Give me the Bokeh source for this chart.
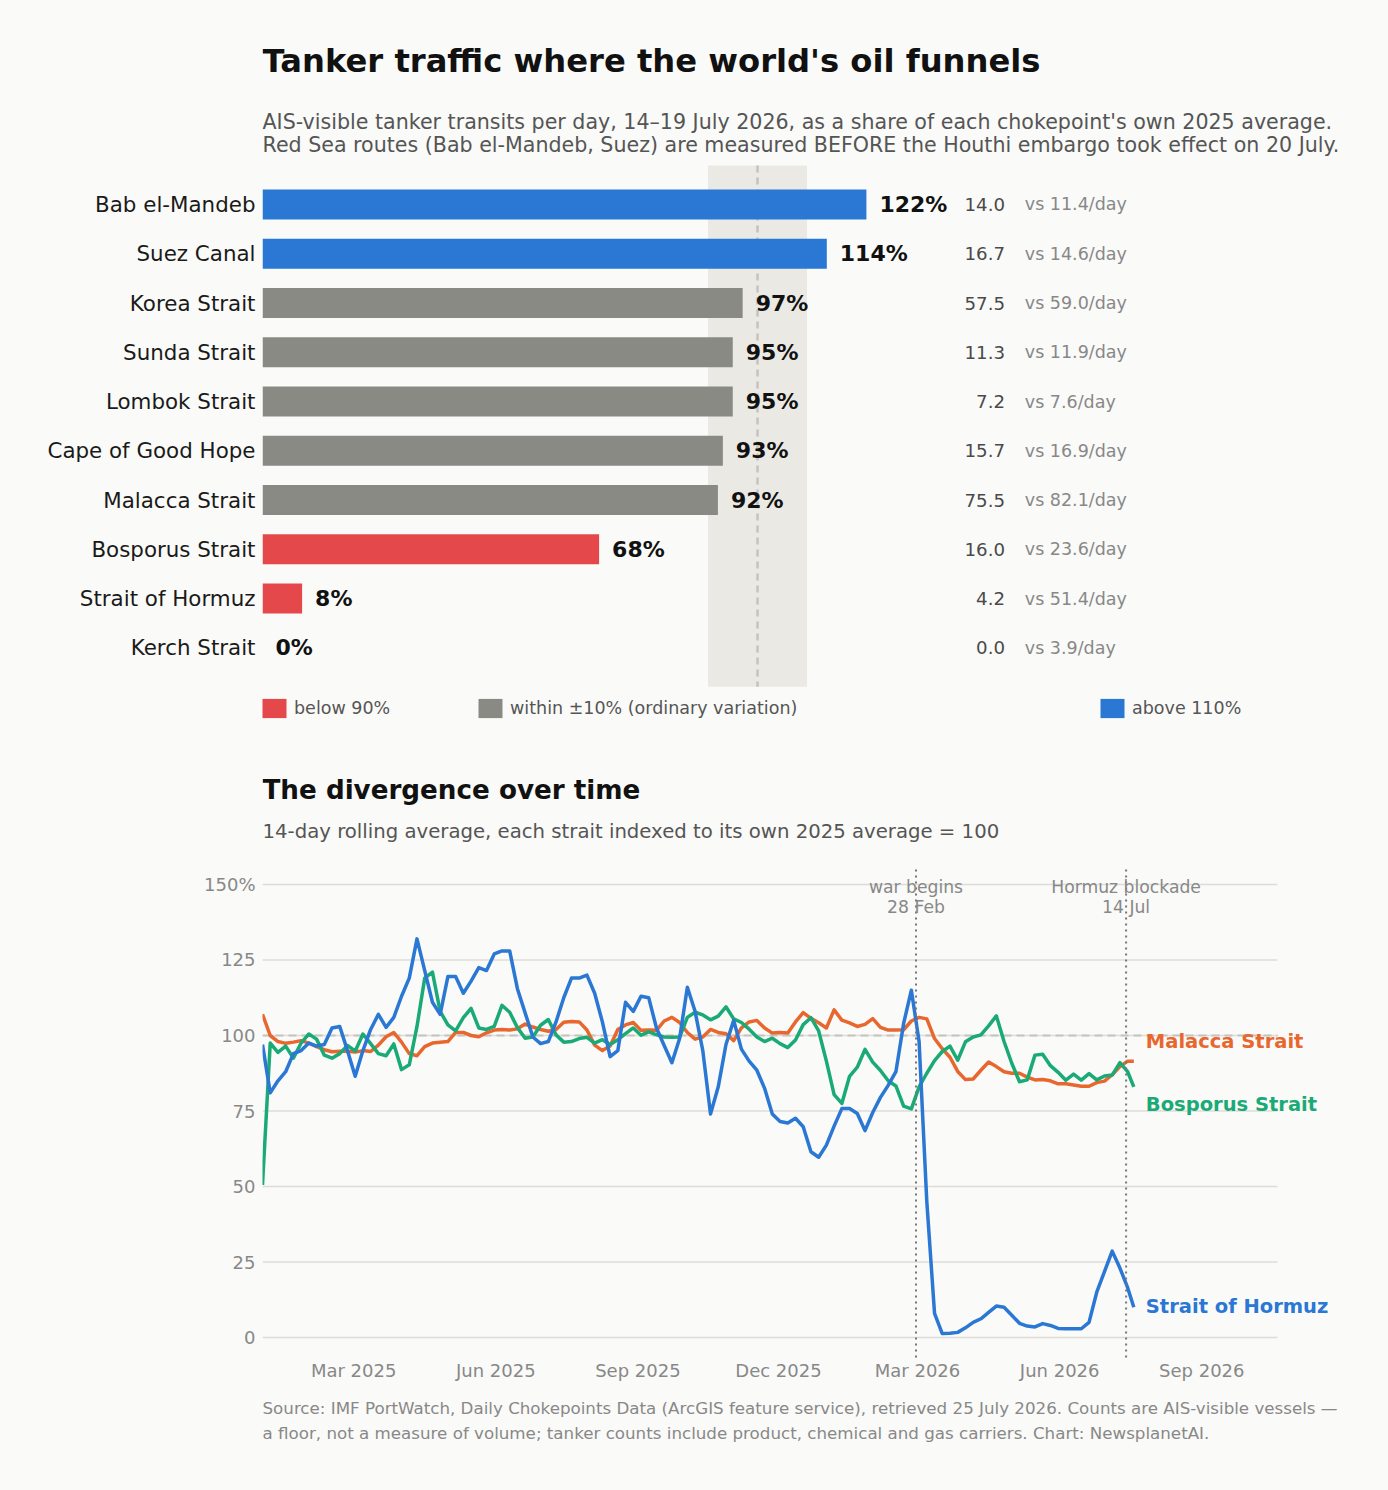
from datetime import timedelta
import pandas as pd
from bokeh.plotting import figure
from bokeh.layouts import column
from bokeh.models import (ColumnDataSource, Range1d, FixedTicker, BoxAnnotation,
                          Label, Legend, LegendItem, DatetimeTickFormatter)
from bokeh.core.properties import value
from bokeh.embed import file_html
from bokeh.resources import INLINE

# ---------------- data: top panel ----------------
chokepoints = ["Bab el-Mandeb", "Suez Canal", "Korea Strait", "Sunda Strait", "Lombok Strait",
               "Cape of Good Hope", "Malacca Strait", "Bosporus Strait", "Strait of Hormuz",
               "Kerch Strait"]
share_pct = [122, 114, 97, 95, 95, 93, 92, 68, 8, 0]
current_per_day = [14.0, 16.7, 57.5, 11.3, 7.2, 15.7, 75.5, 16.0, 4.2, 0.0]
baseline_per_day = [11.4, 14.6, 59.0, 11.9, 7.6, 16.9, 82.1, 23.6, 51.4, 3.9]
legend_labels = ["below 90%", "within \u00b110% (ordinary variation)", "above 110%"]

# ---------------- data: bottom panel (14-day rolling, index 2025 avg = 100) ----------------
series_start = "2025-01-01"
series_step_days = 5
series_end = "2026-07-19"
malacca = [107, 100, 98, 97.4, 97.8, 98.3, 97.5, 96.3, 95.3, 94.6,
           94.8, 94.8, 94.5, 95, 94.7, 96.8, 99.6, 101, 97.8, 94,
           93.3, 96.3, 97.5, 97.8, 98, 101, 101, 100, 99.6, 100.9,
           101.8, 102, 101.8, 102.2, 103.8, 102.8, 102, 101.4, 102, 104.4,
           104.6, 104.5, 101.8, 96.8, 95, 96.5, 102, 103.5, 104.3, 101.7,
           101.8, 101.7, 104.8, 106, 104.3, 101, 98.8, 99.5, 102, 101,
           100.6, 98.3, 102.5, 104.5, 105, 102.5, 100.8, 101, 100.8, 104.5,
           107.6, 105.7, 104.2, 102.5, 108.5, 105.1, 104.2, 103, 103.7, 105.6,
           102.7, 101.8, 101.8, 101.9, 104.8, 106, 105.5, 99, 95.6, 92.8,
           88.1, 85.4, 85.6, 88.5, 91.2, 89.7, 88, 87.5, 87.5, 86.2,
           85.3, 85.4, 85, 84, 84, 83.6, 83.2, 83.2, 84.4, 84.9,
           87, 89.7, 91.5, 91.5]
bosporus = [50.5, 97.5, 94.4, 96.5, 92.5, 97.5, 100.5, 98.8, 93.5, 92.5,
            94, 96.7, 94.8, 100.5, 97.3, 94, 93.3, 97.2, 88.7, 90.3,
            103, 119, 121, 108, 103.5, 101.5, 105.9, 109, 102.5, 102,
            103, 110, 107.7, 102.6, 99.1, 99.5, 103.4, 105.3, 100.2, 97.8,
            98, 99, 99.4, 97.5, 98.6, 97, 98.6, 100.6, 102.5, 100.1,
            101.2, 100.3, 99.5, 99.4, 99.5, 106, 107.7, 106.8, 105.2, 106.4,
            109.5, 105.5, 104.3, 102.1, 99.5, 98, 99.1, 97.3, 96, 98.5,
            103.6, 105.9, 101.5, 91.5, 80.4, 77.5, 86.5, 89.5, 95.4, 91.2,
            88.4, 85, 83.3, 76.6, 75.7, 83, 87.5, 91.7, 94.7, 96.5,
            91.8, 97.9, 99.5, 100.2, 103.2, 106.5, 98, 90.8, 84.7, 85.3,
            93.5, 93.8, 90, 87.8, 85.2, 87.2, 85.2, 87.4, 85.3, 86.6,
            86.9, 91, 88, 83]
hormuz = [97, 81, 85, 88, 94, 95, 97.5, 96.5, 97, 102.5,
          103, 95, 86.5, 95, 102, 107, 102.7, 106, 113, 119,
          132, 121.5, 111, 107, 119.5, 119.5, 114, 118, 122.5, 121.5,
          127, 128, 128, 115.5, 107.5, 99.5, 97.3, 98, 104.5, 112.5,
          119, 119, 120, 114, 104.5, 93, 95, 111, 108, 113,
          112.5, 102.5, 96.7, 91, 99, 116, 108, 95, 74, 83,
          97, 105, 95.5, 91.5, 88.5, 82.5, 74, 71.5, 71, 72.6,
          69.8, 61.5, 59.7, 63.7, 70, 75.8, 75.8, 74.2, 68.5, 74.5,
          79.5, 83.5, 88, 104, 115, 98, 45, 8, 1.3, 1.4,
          1.7, 3.2, 5, 6.2, 8.3, 10.4, 10, 7.4, 4.7, 3.8,
          3.5, 4.6, 4, 3, 2.9, 2.9, 2.9, 5, 15, 21.8,
          28.6, 23, 16.5, 10]
series_names = ["Malacca Strait", "Bosporus Strait", "Strait of Hormuz"]
series_label_y = [98, 77.3, 10.4]
events = [("2026-02-28", "war begins", "28 Feb"), ("2026-07-14", "Hormuz blockade", "14 Jul")]
x_tick_dates = ["2025-03-01", "2025-06-01", "2025-09-01", "2025-12-01",
                "2026-03-01", "2026-06-01", "2026-09-01"]
y_tick_values = [0, 25, 50, 75, 100, 125, 150]

# ---------------- style / layout constants ----------------
FONT = "DejaVu Sans"
BG = "#fafaf8"
BLUE = "#2a77d4"
RED = "#e5484a"
GREY = "#8a8a84"
BAND = "#ebe9e4"
ORANGE = "#e8672f"
GREEN = "#1aaa76"
DARK = "#111111"
MID = "#555555"
LIGHT = "#888888"
GRID = "#dedcd6"
REF = "#c4c3bf"

BAR_Y = (-0.79, 9.79)              # extent of the bar area (category units)
PLOT_START, PLOT_END = "2025-01-01", "2026-10-20"   # extent of the line plot area
PLOT_Y = (-6.62, 156.3)


def ms(d):
    return pd.Timestamp(d).value / 1e6


def klass(v):
    return RED if v < 90 else (BLUE if v > 110 else GREY)


def screen_text(p, txt, yy, size, style, colr):
    p.add_layout(Label(x=0, y=yy, x_units="screen", y_units="screen", text=txt, text_font=FONT,
                       text_font_style=style, text_font_size=size, text_color=colr,
                       text_baseline="middle"))


# =============== top section (title, bars, legend) ===============
p1 = figure(frame_width=1126, frame_height=740, min_border=0, min_border_left=262,
            x_range=Range1d(0, 227.47), y_range=Range1d(10.883, -4.142),
            output_backend="svg", toolbar_location=None,
            background_fill_color=BG, border_fill_color=BG, outline_line_color=None)
p1.grid.visible = False
p1.xaxis.visible = False

idx = list(range(len(chokepoints)))
src1 = ColumnDataSource(dict(
    y=idx, pct=share_pct, color=[klass(v) for v in share_pct],
    pct_txt=[f"{v}%" for v in share_pct],
    cur_txt=[f"{v:.1f}" for v in current_per_day],
    base_txt=[f"vs {v:.1f}/day" for v in baseline_per_day]))

p1.add_layout(BoxAnnotation(left=90, right=110, top=BAR_Y[0], bottom=BAR_Y[1], fill_color=BAND,
                            fill_alpha=1, line_color=None, level="underlay"))
p1.segment(x0=100, x1=100, y0=BAR_Y[0], y1=BAR_Y[1], line_color=REF, line_width=2.5,
           line_dash="7 5")

bars = p1.hbar(y="y", right="pct", left=0, height=0.61, fill_color="color",
               line_color=None, source=src1)
p1.text(x="pct", y="y", text="pct_txt", source=src1, x_offset=13, text_baseline="middle",
        text_font=value(FONT), text_font_style="bold", text_font_size="22px", text_color=DARK)
p1.text(x=150, y="y", text="cur_txt", source=src1, text_align="right", text_baseline="middle",
        text_font=value(FONT), text_font_size="18.2px", text_color="#4a4a4a")
p1.text(x=154, y="y", text="base_txt", source=src1, text_align="left", text_baseline="middle",
        text_font=value(FONT), text_font_size="17.5px", text_color=LIGHT)

yax = p1.yaxis[0]
yax.ticker = FixedTicker(ticks=idx)
yax.major_label_overrides = {i: n for i, n in zip(idx, chokepoints)}
yax.axis_line_color = None
yax.major_tick_line_color = None
yax.minor_tick_line_color = None
yax.major_tick_out = 0
yax.major_tick_in = 0
yax.major_label_standoff = 7
yax.major_label_text_font = FONT
yax.major_label_text_font_size = "21.4px"
yax.major_label_text_color = "#1a1a1a"

for lab, row, xloc in [(legend_labels[0], 7, -3), (legend_labels[1], 2, 213), (legend_labels[2], 0, 835)]:
    lg = Legend(items=[LegendItem(label=lab, renderers=[bars], index=row)],
                location=(xloc, 20.5), orientation="horizontal", padding=0, margin=0,
                border_line_color=None, background_fill_alpha=0, glyph_width=30,
                glyph_height=24, label_height=19, label_standoff=5,
                label_text_font=FONT, label_text_font_size="17.5px", label_text_color=MID)
    p1.add_layout(lg)

screen_text(p1, "Tanker traffic where the world's oil funnels", 679.5, "32.2px", "bold", DARK)
screen_text(p1, "AIS-visible tanker transits per day, 14\u201319 July 2026, as a share of each chokepoint's own 2025 average.",
            618.2, "20.6px", "normal", MID)
screen_text(p1, "Red Sea routes (Bab el-Mandeb, Suez) are measured BEFORE the Houthi embargo took effect on 20 July.",
            595.8, "20.6px", "normal", MID)

# =============== bottom section (line chart) ===============
start = pd.Timestamp(series_start)
n = len(malacca)
dates = [start + timedelta(days=series_step_days * i) for i in range(n - 1)] + [pd.Timestamp(series_end)]

x0_ms, x1_ms = ms(PLOT_START), ms(PLOT_END)
frame_end_ms = x0_ms + (x1_ms - x0_ms) * 1126 / 1015

p2 = figure(frame_width=1126, frame_height=750, min_border=0, min_border_left=262,
            x_axis_type="datetime", x_range=Range1d(x0_ms, frame_end_ms),
            y_range=Range1d(-50.66, 197.68), output_backend="svg", toolbar_location=None,
            background_fill_color=BG, border_fill_color=BG, outline_line_color=None)
p2.grid.visible = False

xax = p2.xaxis[0]
xax.fixed_location = PLOT_Y[0]
xax.ticker = FixedTicker(ticks=[ms(d) for d in x_tick_dates])
xax.formatter = DatetimeTickFormatter(days="%b %Y", months="%b %Y", years="%b %Y",
                                      hours="%b %Y", minutes="%b %Y")
yax2 = p2.yaxis[0]
yax2.ticker = FixedTicker(ticks=y_tick_values)
yax2.major_label_overrides = {150: "150%"}
for ax in (xax, yax2):
    ax.axis_line_color = None
    ax.major_tick_line_color = None
    ax.minor_tick_line_color = None
    ax.major_tick_out = 0
    ax.major_tick_in = 0
    ax.major_label_text_font = FONT
    ax.major_label_text_font_size = "18px"
    ax.major_label_text_color = LIGHT
xax.major_label_standoff = 3
yax2.major_label_standoff = 7

# horizontal grid at the y ticks, limited to the plot area
p2.segment(x0=x0_ms, x1=x1_ms, y0=y_tick_values, y1=y_tick_values, line_color=GRID,
           line_width=1.6)
p2.segment(x0=x0_ms, x1=x1_ms, y0=100, y1=100, line_color=REF, line_width=2, line_dash="8 5")

src2 = ColumnDataSource(dict(date=dates, malacca=malacca, bosporus=bosporus, hormuz=hormuz))
for col, colr in [("malacca", ORANGE), ("bosporus", GREEN), ("hormuz", BLUE)]:
    p2.line(x="date", y=col, source=src2, line_color=colr, line_width=3.5, line_join="round")

for d, l1, l2 in events:
    p2.segment(x0=ms(d), x1=ms(d), y0=PLOT_Y[0], y1=PLOT_Y[1], line_color="#777777",
               line_width=2, line_dash="2 4")
    p2.add_layout(Label(x=ms(d), y=149.3, text=l1, text_align="center", text_baseline="middle",
                        text_font=FONT, text_font_size="17.2px", text_color=LIGHT))
    p2.add_layout(Label(x=ms(d), y=142.4, text=l2, text_align="center", text_baseline="middle",
                        text_font=FONT, text_font_size="17.2px", text_color=LIGHT))

for name, yv, colr in zip(series_names, series_label_y, [ORANGE, GREEN, BLUE]):
    p2.add_layout(Label(x=ms(series_end), y=yv, x_offset=12, text=name, text_align="left",
                        text_baseline="middle", text_font=FONT, text_font_style="bold",
                        text_font_size="19.5px", text_color=colr))

screen_text(p2, "The divergence over time", 701, "26.2px", "bold", DARK)
screen_text(p2, "14-day rolling average, each strait indexed to its own 2025 average = 100", 659,
            "19.7px", "normal", MID)
screen_text(p2, "Source: IMF PortWatch, Daily Chokepoints Data (ArcGIS feature service), retrieved 25 July 2026. Counts are AIS-visible vessels \u2014",
            82.5, "16.7px", "normal", LIGHT)
screen_text(p2, "a floor, not a measure of volume; tanker counts include product, chemical and gas carriers. Chart: NewsplanetAI.",
            58, "16.7px", "normal", LIGHT)

layout = column(p1, p2, spacing=0, background=BG)
open("out.html", "w").write(file_html(layout, INLINE))
